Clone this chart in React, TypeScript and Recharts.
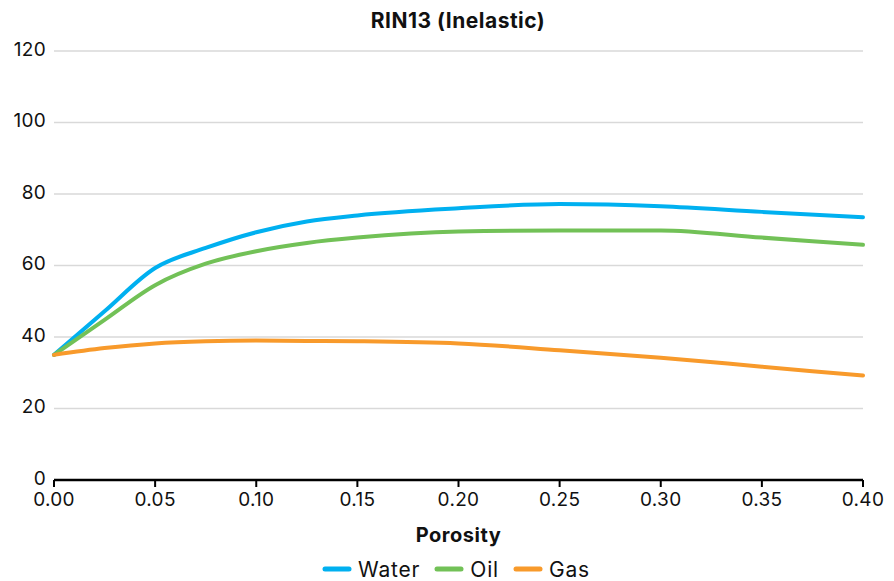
import React from "react";
import {
  LineChart,
  Line,
  XAxis,
  YAxis,
  CartesianGrid,
  Legend,
  Label,
} from "recharts";

const porosity = [0, 0.025, 0.05, 0.075, 0.1, 0.125, 0.15, 0.2, 0.25, 0.3, 0.35, 0.4];
const water = [35, 47.2, 59.3, 64.9, 69.3, 72.3, 74, 76, 77.2, 76.6, 75, 73.5];
const oil = [35, 44.8, 54.5, 60.5, 64, 66.3, 67.8, 69.5, 69.8, 69.8, 67.8, 65.8];
const gas = [35, 36.9, 38.2, 38.8, 39, 38.9, 38.8, 38.2, 36.3, 34.2, 31.7, 29.2];

const xTicks = [0, 0.05, 0.1, 0.15, 0.2, 0.25, 0.3, 0.35, 0.4];
const yTicks = [0, 20, 40, 60, 80, 100, 120];

const series = [
  { key: "Water", color: "#00B0F0", values: water },
  { key: "Oil", color: "#72C157", values: oil },
  { key: "Gas", color: "#F89A2B", values: gas },
];

const data = porosity.map((p, i) => ({
  porosity: p,
  Water: water[i],
  Oil: oil[i],
  Gas: gas[i],
}));

const FONT = "Inter, 'Open Sans', sans-serif";

function LegendBox() {
  return (
    <div
      style={{
        display: "flex",
        justifyContent: "center",
        alignItems: "center",
        height: 24,
        paddingLeft: 49,
        gap: 14,
        fontSize: 21,
        color: "#111",
        letterSpacing: 0.8,
        fontFamily: FONT,
      }}
    >
      {series.map(s => (
        <div key={s.key} style={{ display: "flex", alignItems: "center", gap: 6 }}>
          <svg width={30} height={8}>
            <line
              x1={3}
              y1={4}
              x2={27}
              y2={4}
              stroke={s.color}
              strokeWidth={5}
              strokeLinecap="round"
            />
          </svg>
          <span>{s.key}</span>
        </div>
      ))}
    </div>
  );
}

export default function App() {
  return (
    <div
      style={{
        position: "absolute",
        left: 0,
        top: 0,
        width: 894,
        height: 581,
        background: "#fff",
        fontFamily: FONT,
      }}
    >
      <div
        style={{
          position: "absolute",
          top: 8,
          left: 0,
          width: 916,
          textAlign: "center",
          fontSize: 21,
          fontWeight: 700,
          letterSpacing: 0.5,
          color: "#111",
        }}
      >
        RIN13 (Inelastic)
      </div>
      <LineChart
        width={894}
        height={581}
        data={data}
        margin={{ top: 51, right: 31, left: 0, bottom: 0 }}
      >
        <CartesianGrid
          vertical={false}
          stroke="#d9d9d9"
          strokeWidth={1.5}
        />
        <XAxis
          dataKey="porosity"
          type="number"
          domain={[0, 0.4]}
          ticks={xTicks}
          tickFormatter={(v: number) => v.toFixed(2)}
          tick={{ fill: "#111", fontSize: 19, letterSpacing: 0.3 }}
          axisLine={{ stroke: "#000", strokeWidth: 2.5 }}
          tickLine={{ stroke: "#000", strokeWidth: 2 }}
          tickSize={7}
          tickMargin={6}
          height={77}
        >
          <Label
            value="Porosity"
            position="insideBottom"
            offset={15}
            style={{ fill: "#111", fontSize: 20, fontWeight: 700, letterSpacing: 0.5 }}
          />
        </XAxis>
        <YAxis
          type="number"
          domain={[0, 120]}
          ticks={yTicks}
          tick={{ fill: "#111", fontSize: 19, letterSpacing: 0.3, dy: -2 }}
          axisLine={false}
          tickLine={false}
          tickMargin={2}
          width={54}
        />
        <Legend verticalAlign="bottom" align="center" height={24} content={() => <LegendBox />} />
        {series.map(s => (
          <Line
            key={s.key}
            type="monotone"
            dataKey={s.key}
            stroke={s.color}
            strokeWidth={4}
            dot={false}
            strokeLinecap="round"
            isAnimationActive={false}
          />
        ))}
      </LineChart>
    </div>
  );
}
